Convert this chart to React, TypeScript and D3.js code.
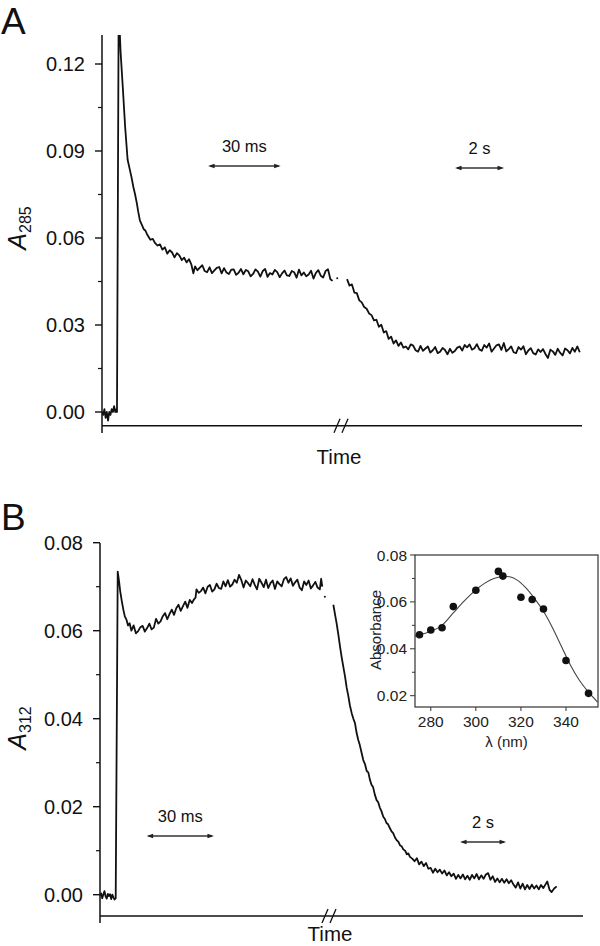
import React from 'react';
import * as d3 from 'd3';

const FONT = "'Liberation Sans', Arial, Helvetica, sans-serif";

// ---------- Panel A data ----------
const A_Y_TICKS = [0, 0.03, 0.06, 0.09, 0.12];
const A_Y_MINOR = [0.015, 0.045, 0.075, 0.105];
// fast phase: [time (ms), A285]
const A_FAST: [number, number][] = [
  [0, 0.0], [0.5, -0.001], [1, 0.001], [1.5, -0.002], [2, 0.0], [2.5, -0.003], [3, 0.0], [3.5, -0.001],
  [4, 0.001], [4.5, 0.0], [5, 0.002], [5.5, 0.0], [6, 0.001], [6.2, 0.0],
  [6.9, 0.14], [7.7, 0.124], [8.6, 0.112], [9.6, 0.098], [10.6, 0.087], [11.4, 0.084], [12.2, 0.081],
  [13, 0.0775], [13.7, 0.075], [14.4, 0.072], [15, 0.069], [15.7, 0.066], [16.5, 0.0645], [17.3, 0.063],
  [18, 0.0625], [18.7, 0.0612], [19, 0.0608], [20, 0.0594], [21, 0.0597], [22, 0.0582], [23, 0.0574],
  [24, 0.0578], [25, 0.056], [26, 0.0568], [27, 0.0546], [28, 0.0558], [29, 0.055], [30, 0.0533],
  [31, 0.0548], [32, 0.054], [33, 0.0524], [34, 0.0532], [35, 0.0516], [36, 0.0527], [37, 0.0508],
  [37.8, 0.0478], [38.5, 0.0502], [39.5, 0.0489], [40.5, 0.0498], [41.5, 0.0506], [42.5, 0.0486],
  [43.5, 0.0482], [44.5, 0.0499], [45.5, 0.0479], [46.5, 0.0488], [47.5, 0.0497], [48.5, 0.05],
  [49.5, 0.0478], [50.5, 0.0496], [51.5, 0.0481], [52.5, 0.0476], [53.5, 0.0491], [54.5, 0.0492],
  [55.5, 0.0473], [56.5, 0.048], [57.5, 0.0493], [58.5, 0.0475], [59.5, 0.049], [60.5, 0.0485],
  [61.5, 0.0468], [62.5, 0.0476], [63.5, 0.0492], [64.5, 0.0484], [65.5, 0.0467], [66.5, 0.0486],
  [67.5, 0.0493], [68.5, 0.0466], [69.5, 0.0479], [70.5, 0.0474], [71.5, 0.049], [72.5, 0.0482],
  [73.5, 0.0465], [74.5, 0.0478], [75.5, 0.0488], [76.5, 0.0471], [77.5, 0.0469], [78.5, 0.0486],
  [79.5, 0.0482], [80.5, 0.0463], [81.5, 0.0491], [82.5, 0.0471], [83.5, 0.0481], [84.5, 0.0468],
  [85.5, 0.0474], [86.5, 0.0487], [87.5, 0.046], [88.5, 0.048], [89.5, 0.0489], [90.5, 0.047],
  [91.5, 0.0464], [92.5, 0.0486], [93.5, 0.0492], [94.5, 0.0458], [95.4, 0.0452],
];
// isolated point at the axis break: [time (s), A285]
const A_GAP_POINT: [number, number] = [0.05, 0.0461];
// slow phase: [time (s), A285]
const A_SLOW: [number, number][] = [
  [0.45, 0.0458], [0.55, 0.0436], [0.65, 0.044], [0.75, 0.0412], [0.85, 0.041], [0.95, 0.0385],
  [1.05, 0.0378], [1.15, 0.0362], [1.25, 0.0356], [1.35, 0.034], [1.45, 0.0334], [1.55, 0.0316],
  [1.65, 0.0318], [1.75, 0.0294], [1.85, 0.0301], [1.95, 0.0274], [2.05, 0.0279], [2.15, 0.0252],
  [2.25, 0.026], [2.35, 0.0236], [2.45, 0.0247], [2.55, 0.0228], [2.65, 0.024], [2.75, 0.0222],
  [2.85, 0.0226], [2.95, 0.0216], [3.05, 0.0233], [3.15, 0.0229], [3.25, 0.0213], [3.35, 0.0208],
  [3.45, 0.0228], [3.55, 0.0211], [3.65, 0.0219], [3.75, 0.0226], [3.85, 0.0205], [3.95, 0.0213],
  [4.05, 0.0224], [4.15, 0.0203], [4.25, 0.0208], [4.35, 0.0221], [4.45, 0.0214], [4.55, 0.0199],
  [4.65, 0.0218], [4.75, 0.0204], [4.85, 0.021], [4.95, 0.0222], [5.05, 0.0226], [5.15, 0.0212],
  [5.25, 0.0231], [5.35, 0.0223], [5.45, 0.0233], [5.55, 0.0215], [5.65, 0.022], [5.75, 0.0234],
  [5.85, 0.0216], [5.95, 0.0211], [6.05, 0.0231], [6.15, 0.0222], [6.25, 0.0236], [6.35, 0.0208],
  [6.45, 0.0219], [6.55, 0.023], [6.65, 0.0233], [6.75, 0.0214], [6.85, 0.0238], [6.95, 0.0209],
  [7.05, 0.0217], [7.15, 0.0226], [7.25, 0.0206], [7.35, 0.0203], [7.45, 0.0224], [7.55, 0.0215],
  [7.65, 0.0227], [7.75, 0.0199], [7.85, 0.0212], [7.95, 0.022], [8.05, 0.0203], [8.15, 0.0198],
  [8.25, 0.0216], [8.35, 0.0207], [8.45, 0.0217], [8.55, 0.02], [8.65, 0.0186], [8.75, 0.0215],
  [8.85, 0.0209], [8.95, 0.0197], [9.05, 0.0218], [9.15, 0.0204], [9.25, 0.0195], [9.35, 0.0219],
  [9.45, 0.0213], [9.55, 0.0202], [9.65, 0.0221], [9.75, 0.0208], [9.85, 0.0226], [9.95, 0.0206],
];

// ---------- Panel B data ----------
const B_Y_TICKS = [0, 0.02, 0.04, 0.06, 0.08];
const B_Y_MINOR = [0.01, 0.03, 0.05, 0.07];
const B_FAST: [number, number][] = [
  [0, -0.0002], [0.5, 0.0003], [1, -0.0008], [1.5, 0.0001], [2, 0.0008], [2.5, -0.0004], [3, -0.0009],
  [3.5, 0.0002], [4, -0.0003], [4.5, 0.0001], [5, -0.001], [5.5, 0.0], [6, -0.0006], [6.5, -0.0011],
  [7.0, -0.0008], [7.9, 0.0734], [8.5, 0.0712], [9.0, 0.069], [9.7, 0.0668], [10.4, 0.0648],
  [11.1, 0.0632], [11.8, 0.0625], [12.5, 0.0612], [13.2, 0.0617], [14, 0.06], [15, 0.0612],
  [16, 0.0594], [17, 0.0599], [18, 0.0608], [19, 0.0611], [20, 0.0598], [21, 0.0606], [22, 0.0616],
  [23, 0.0603], [24, 0.0607], [25, 0.0627], [26, 0.0616], [27, 0.0621], [28, 0.0633], [29, 0.064],
  [30, 0.0626], [31, 0.0638], [32, 0.0648], [33, 0.0636], [34, 0.0651], [35, 0.0659], [36, 0.0645],
  [37, 0.0656], [38, 0.0666], [39, 0.0652], [40, 0.067], [41, 0.0663], [42, 0.0672], [42.6, 0.0675],
  [43, 0.0694], [44, 0.0686], [45, 0.069], [46, 0.0698], [47, 0.0685], [48, 0.07], [49, 0.0704],
  [50, 0.0689], [51, 0.0694], [52, 0.0707], [53, 0.0697], [54, 0.0695], [55, 0.0712], [56, 0.0701],
  [57, 0.0715], [58, 0.07], [59, 0.0705], [60, 0.0716], [61, 0.0709], [62, 0.0727], [63, 0.0715],
  [64, 0.0698], [65, 0.0714], [66, 0.0708], [67, 0.0701], [68, 0.0717], [69, 0.0704], [70, 0.0694],
  [71, 0.0718], [72, 0.0709], [73, 0.0699], [74, 0.0716], [75, 0.0697], [76, 0.0708], [77, 0.0714],
  [78, 0.0695], [79, 0.0712], [80, 0.0706], [81, 0.0701], [82, 0.0717], [83, 0.0722], [84, 0.0709],
  [85, 0.0719], [86, 0.0702], [87, 0.071], [88, 0.0716], [89, 0.0698], [90, 0.0692], [91, 0.0712],
  [92, 0.0704], [93, 0.0714], [94, 0.0696], [95, 0.0703], [96, 0.0711], [97, 0.0698], [98, 0.0694],
  [98.6, 0.0718], [99.1, 0.07],
];
const B_GAP_POINT: [number, number] = [-0.05, 0.0677];
const B_SLOW: [number, number][] = [
  [0.32, 0.0659], [0.4, 0.0635], [0.46, 0.0617], [0.54, 0.059], [0.61, 0.0564], [0.68, 0.054],
  [0.76, 0.0516], [0.83, 0.0495], [0.9, 0.047], [0.97, 0.0452], [1.04, 0.043], [1.12, 0.0412],
  [1.19, 0.04], [1.26, 0.039], [1.33, 0.0368], [1.4, 0.0352], [1.47, 0.034], [1.55, 0.0322],
  [1.62, 0.0306], [1.7, 0.0296], [1.77, 0.0281], [1.84, 0.0278], [1.91, 0.0261], [1.98, 0.025],
  [2.05, 0.0244], [2.12, 0.0228], [2.2, 0.0215], [2.27, 0.021], [2.34, 0.0198], [2.41, 0.019],
  [2.49, 0.0177], [2.56, 0.0172], [2.63, 0.0163], [2.7, 0.016], [2.78, 0.0151], [2.85, 0.0144],
  [2.92, 0.014], [3.0, 0.013], [3.07, 0.0124], [3.15, 0.012], [3.22, 0.0112], [3.29, 0.011],
  [3.36, 0.0103], [3.44, 0.01], [3.51, 0.0092], [3.58, 0.0094], [3.65, 0.0086], [3.75, 0.0082],
  [3.85, 0.0076], [3.95, 0.0083], [4.05, 0.0069], [4.15, 0.0075], [4.25, 0.0065], [4.35, 0.0072],
  [4.45, 0.0059], [4.55, 0.0061], [4.65, 0.005], [4.75, 0.0059], [4.85, 0.0051], [4.95, 0.0057],
  [5.05, 0.0048], [5.15, 0.0055], [5.25, 0.0044], [5.35, 0.0051], [5.45, 0.0042], [5.55, 0.0048],
  [5.65, 0.0036], [5.75, 0.0045], [5.85, 0.0037], [5.95, 0.0046], [6.05, 0.0035], [6.15, 0.0043],
  [6.25, 0.0034], [6.35, 0.0045], [6.45, 0.0037], [6.55, 0.0047], [6.65, 0.0035], [6.75, 0.0044],
  [6.85, 0.0036], [6.95, 0.0046], [7.05, 0.0049], [7.15, 0.0034], [7.25, 0.0042], [7.35, 0.0029],
  [7.45, 0.0037], [7.55, 0.0028], [7.65, 0.0036], [7.75, 0.0027], [7.85, 0.0035], [7.95, 0.0026],
  [8.05, 0.0033], [8.15, 0.0023], [8.25, 0.0016], [8.35, 0.0028], [8.45, 0.0014], [8.55, 0.0025],
  [8.65, 0.0012], [8.75, 0.0022], [8.85, 0.0013], [8.95, 0.0023], [9.05, 0.0014], [9.15, 0.0021],
  [9.25, 0.0012], [9.35, 0.0022], [9.45, 0.0015], [9.55, 0.0024], [9.62, 0.003], [9.72, 0.0011],
  [9.81, 0.0006], [9.92, 0.0014], [10.03, 0.0019],
];

// ---------- Inset data ----------
const INSET_WL = [275, 280, 285, 290, 300, 310, 312, 320, 325, 330, 340, 350];
const INSET_ABS = [0.046, 0.048, 0.049, 0.058, 0.065, 0.073, 0.071, 0.062, 0.061, 0.057, 0.035, 0.021];
const FIT_WL = [273, 277, 281, 285, 290, 295, 300, 304, 308, 312, 315, 318, 322, 326, 330, 334, 338, 342, 346, 350, 354];
const FIT_ABS = [0.0455, 0.0465, 0.0478, 0.05, 0.0553, 0.0605, 0.0651, 0.068, 0.07, 0.0708, 0.0707, 0.0695, 0.0662, 0.0615, 0.056, 0.049, 0.041, 0.033, 0.0265, 0.0215, 0.0173];
const INSET_Y_TICKS = [0.02, 0.04, 0.06, 0.08];
const INSET_Y_MINOR = [0.03, 0.05, 0.07];
const INSET_X_TICKS = [280, 300, 320, 340];

const TRACE = '#111';

function Arrow({ x1, x2, y }: { x1: number; x2: number; y: number }) {
  const h = 6.5, w = 2.3;
  return (
    <g>
      <line x1={x1 + 2} x2={x2 - 2} y1={y} y2={y} stroke="#333" strokeWidth={1.3} />
      <path d={`M${x1},${y} L${x1 + h},${y - w} L${x1 + h},${y + w} Z`} fill="#222" />
      <path d={`M${x2},${y} L${x2 - h},${y - w} L${x2 - h},${y + w} Z`} fill="#222" />
    </g>
  );
}

type PanelProps = {
  id: string;
  letter: string;
  letterY: number;
  yScale: d3.ScaleLinear<number, number>;
  yTop: number;
  yTicks: number[];
  yMinor: number[];
  tickFmt: (v: number) => string;
  axisX: number;
  axisEndX: number;
  xAxisY: number;
  yAxisBottom: number;
  fast: [number, number][];
  slow: [number, number][];
  gap: [number, number];
  xFast: d3.ScaleLinear<number, number>;
  xSlow: d3.ScaleLinear<number, number>;
  breakX: number;
  sub: string;
  yLabelY: number;
  timeX: number;
  timeY: number;
  arrowFast: [number, number];
  arrowSlow: [number, number];
  arrowFastY: number;
  arrowSlowY: number;
};

function Panel(p: PanelProps) {
  const lineFast = d3.line<[number, number]>().x(d => p.xFast(d[0])).y(d => p.yScale(d[1]));
  const lineSlow = d3.line<[number, number]>().x(d => p.xSlow(d[0])).y(d => p.yScale(d[1]));
  const fx1 = p.xFast(p.arrowFast[0]);
  const fx2 = p.xFast(p.arrowFast[0] + p.arrowFast[1]);
  const sx1 = p.xSlow(p.arrowSlow[0]);
  const sx2 = p.xSlow(p.arrowSlow[0] + p.arrowSlow[1]);
  return (
    <g>
      <defs>
        <clipPath id={`clip-${p.id}`}>
          <rect x={p.axisX} y={p.yTop} width={p.axisEndX - p.axisX} height={p.xAxisY - p.yTop} />
        </clipPath>
      </defs>
      <text x={1} y={p.letterY} fontSize={37} fontFamily={FONT} fill="#111">{p.letter}</text>
      {/* y axis */}
      <line x1={p.axisX} x2={p.axisX} y1={p.yTop} y2={p.yAxisBottom} stroke="#111" strokeWidth={1.5} />
      {p.yTicks.map(t => (
        <g key={t}>
          <line x1={p.axisX - 7} x2={p.axisX} y1={p.yScale(t)} y2={p.yScale(t)} stroke="#111" strokeWidth={1.4} />
          <text x={p.axisX - 17} y={p.yScale(t) + 7} textAnchor="end" fontSize={20} fontFamily={FONT} fill="#111">{p.tickFmt(t)}</text>
        </g>
      ))}
      {p.yMinor.map(t => (
        <line key={t} x1={p.axisX - 4} x2={p.axisX} y1={p.yScale(t)} y2={p.yScale(t)} stroke="#111" strokeWidth={1.2} />
      ))}
      {/* x axis */}
      <line x1={p.axisX} x2={p.axisEndX} y1={p.xAxisY} y2={p.xAxisY} stroke="#111" strokeWidth={1.5} />
      <line x1={p.breakX - 7} x2={p.breakX - 1} y1={p.xAxisY + 7} y2={p.xAxisY - 7} stroke="#111" strokeWidth={1.3} />
      <line x1={p.breakX + 1} x2={p.breakX + 7} y1={p.xAxisY + 7} y2={p.xAxisY - 7} stroke="#111" strokeWidth={1.3} />
      <text x={p.timeX} y={p.timeY} textAnchor="middle" fontSize={20.5} fontFamily={FONT} fill="#111">Time</text>
      {/* y label */}
      <g transform={`translate(26,${p.yLabelY}) rotate(-90)`}>
        <text x={0} y={0} textAnchor="middle" fontSize={25} fontFamily={FONT} fill="#111">
          <tspan fontStyle="italic">A</tspan>
          <tspan fontSize={16} dy={5}>{p.sub}</tspan>
        </text>
      </g>
      {/* traces */}
      <g clipPath={`url(#clip-${p.id})`}>
        <path d={lineFast(p.fast) || ''} fill="none" stroke={TRACE} strokeWidth={1.8} strokeLinejoin="round" />
        <path d={lineSlow(p.slow) || ''} fill="none" stroke={TRACE} strokeWidth={1.8} strokeLinejoin="round" />
        <circle cx={p.xSlow(p.gap[0])} cy={p.yScale(p.gap[1])} r={1} fill={TRACE} />
      </g>
      {/* scale arrows */}
      <text x={(fx1 + fx2) / 2} y={p.arrowFastY - 14} textAnchor="middle" fontSize={16.5} fontFamily={FONT} fill="#111">30 ms</text>
      <Arrow x1={fx1} x2={fx2} y={p.arrowFastY} />
      <text x={(sx1 + sx2) / 2} y={p.arrowSlowY - 14} textAnchor="middle" fontSize={16.5} fontFamily={FONT} fill="#111">2 s</text>
      <Arrow x1={sx1} x2={sx2} y={p.arrowSlowY} />
    </g>
  );
}

function Inset() {
  const boxL = 415, boxR = 598, boxT = 555, boxB = 707;
  const x = d3.scaleLinear().domain([273, 354.2]).range([boxL, boxR]);
  const y = d3.scaleLinear().domain([0.02, 0.08]).range([695.7, boxT]);
  const fitPts: [number, number][] = FIT_WL.map((w, i) => [w, FIT_ABS[i]]);
  const fit = d3.line<[number, number]>().x(d => x(d[0])).y(d => y(d[1])).curve(d3.curveCatmullRom);
  const fmt = d3.format('.2f');
  return (
    <g>
      <rect x={boxL} y={boxT} width={boxR - boxL} height={boxB - boxT} fill="none" stroke="#333" strokeWidth={1.2} />
      {INSET_Y_TICKS.map(t => (
        <g key={t}>
          <line x1={boxL - 5} x2={boxL} y1={y(t)} y2={y(t)} stroke="#333" strokeWidth={1} />
          <text x={boxL - 8} y={y(t) + 5.5} textAnchor="end" fontSize={15.5} fontFamily={FONT} fill="#222">{fmt(t)}</text>
        </g>
      ))}
      {INSET_Y_MINOR.map(t => (
        <line key={t} x1={boxL - 3} x2={boxL} y1={y(t)} y2={y(t)} stroke="#333" strokeWidth={1} />
      ))}
      {INSET_X_TICKS.map(t => (
        <g key={t}>
          <line x1={x(t)} x2={x(t)} y1={boxB} y2={boxB + 4} stroke="#333" strokeWidth={1} />
          <text x={x(t)} y={boxB + 20} textAnchor="middle" fontSize={15.5} fontFamily={FONT} fill="#222">{t}</text>
        </g>
      ))}
      <text x={(boxL + boxR) / 2} y={boxB + 40} textAnchor="middle" fontSize={15} fontFamily={FONT} fill="#222">λ (nm)</text>
      <g transform={`translate(381,${(boxT + boxB) / 2 - 1}) rotate(-90)`}>
        <text x={0} y={0} textAnchor="middle" fontSize={15} fontFamily={FONT} fill="#222">Absorbance</text>
      </g>
      <clipPath id="inset-clip"><rect x={boxL} y={boxT} width={boxR - boxL} height={boxB - boxT} /></clipPath>
      <path d={fit(fitPts) || ''} fill="none" stroke="#444" strokeWidth={1.1} clipPath="url(#inset-clip)" />
      {INSET_WL.map((w, i) => (
        <circle key={w} cx={x(w)} cy={y(INSET_ABS[i])} r={3.8} fill="#111" />
      ))}
    </g>
  );
}

export default function App() {
  const fmt = d3.format('.2f');
  const yA = d3.scaleLinear().domain([0, 0.12]).range([412, 64]);
  const xAFast = d3.scaleLinear().domain([0, 96]).range([102, 334.03]);
  const xASlow = d3.scaleLinear().domain([0, 10]).range([336, 581]);
  const yB = d3.scaleLinear().domain([0, 0.08]).range([894.7, 542.7]);
  const xBFast = d3.scaleLinear().domain([0, 100]).range([100, 324.3]);
  const xBSlow = d3.scaleLinear().domain([0, 10.8]).range([326, 574.4]);
  return (
    <svg width={600} height={946} style={{ position: 'absolute', left: 0, top: 0, background: '#fff' }}>
      <rect x={0} y={0} width={600} height={946} fill="#fff" />
      <Panel
        id="a" letter="A" letterY={34}
        yScale={yA} yTop={35} yTicks={A_Y_TICKS} yMinor={A_Y_MINOR} tickFmt={fmt}
        axisX={102} axisEndX={582} xAxisY={425.7} yAxisBottom={433}
        fast={A_FAST} slow={A_SLOW} gap={A_GAP_POINT} xFast={xAFast} xSlow={xASlow}
        breakX={341} sub="285" yLabelY={228} timeX={339} timeY={464}
        arrowFast={[43.9, 30]} arrowSlow={[4.86, 2]} arrowFastY={166} arrowSlowY={168}
      />
      <Panel
        id="b" letter="B" letterY={530}
        yScale={yB} yTop={543} yTicks={B_Y_TICKS} yMinor={B_Y_MINOR} tickFmt={fmt}
        axisX={100} axisEndX={583} xAxisY={916} yAxisBottom={923}
        fast={B_FAST} slow={B_SLOW} gap={B_GAP_POINT} xFast={xBFast} xSlow={xBSlow}
        breakX={329} sub="312" yLabelY={728} timeX={330} timeY={941}
        arrowFast={[20.8, 30]} arrowSlow={[5.83, 2]} arrowFastY={836} arrowSlowY={842}
      />
      <Inset />
    </svg>
  );
}
